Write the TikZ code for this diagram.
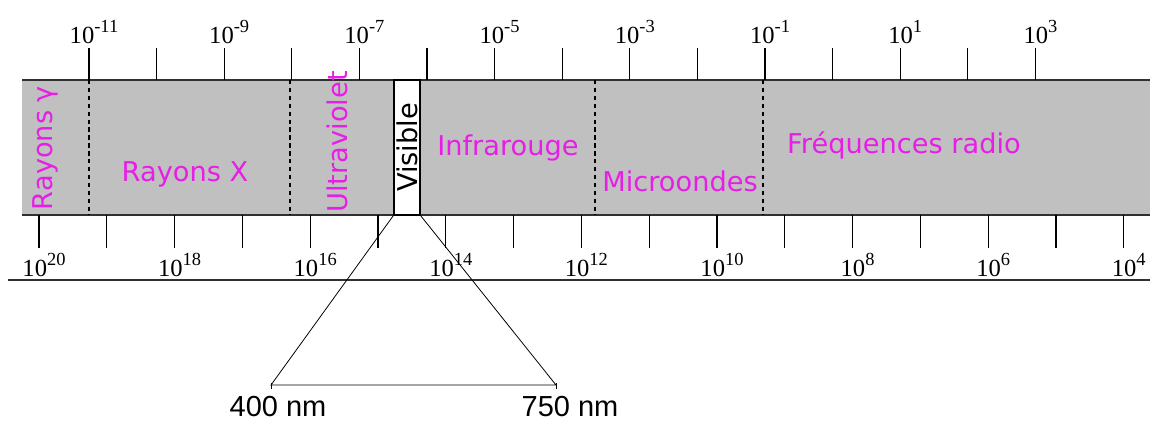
\documentclass[tikz,border=0pt]{standalone}
\usepackage{fontspec}
\setmainfont{Liberation Serif}
\newfontfamily\bandfont{DejaVu Sans}
\newfontfamily\nmfont{Liberation Sans}
\usepackage{xcolor}
\usepackage{tikz}
\usetikzlibrary{positioning}
\definecolor{bandgray}{HTML}{C0C0C0}
\definecolor{bandpink}{HTML}{E61EE6}
\definecolor{axisgray}{HTML}{303030}
\newcommand{\tenpow}[1]{10\raisebox{0.42em}{\fontsize{10.5}{12}\selectfont #1}}

\begin{document}
\begin{tikzpicture}[x=0.02cm, y=-0.02cm,
    axis/.style={draw=axisgray, line width=1pt},
    tick/.style={draw=black, line width=0.75pt},
    border/.style={draw=black, line width=0.8pt, dash pattern=on 2.5pt off 2pt},
    bandlbl/.style={text=bandpink, font=\bandfont\fontsize{15.5}{18}\selectfont, inner sep=0pt},
    powlbl/.style={font=\fontsize{14}{16}\selectfont, inner sep=0pt, anchor=base},
    nmlbl/.style={font=\nmfont\fontsize{16.5}{19}\selectfont, inner sep=0pt},
    zoomline/.style={draw=black, line width=0.45pt},
    visbox/.style={draw=black, fill=white, line width=0.8pt, minimum width=0.52cm,
      minimum height=2.7cm, inner sep=0pt, font=\bandfont\fontsize{15.5}{18}\selectfont}]

  \useasboundingbox (0,0) rectangle (1150,424);

  % band and axes
  \fill[bandgray] (22,80) rectangle (1150,215);
  \draw[axis] (22,80) -- (1150,80);
  \draw[axis] (22,215) -- (1150,215);
  \draw[axis] (8,280) -- (1150,280);

  % wavelength scale (top)
  \foreach \i in {0,...,14}
    \draw[tick] ({89+67.6*\i},48) -- ({89+67.6*\i},80);
  \foreach \i [evaluate=\i as \e using int(\i-11)] in {0,2,...,14}
    \node[powlbl] (wl\i) at ({94+67.6*\i},43) {\tenpow{\e}};

  % frequency scale (bottom)
  \foreach \i in {0,...,16}
    \draw[tick] ({39+67.8*\i},215) -- ({39+67.8*\i},248);
  \foreach \i [evaluate=\i as \e using int(20-\i)] in {0,2,...,16}
    \node[powlbl] (fq\i) at ({44+67.8*\i},276) {\tenpow{\e}};

  % domain limits
  \foreach \x in {89,290,595,763}
    \draw[border] (\x,80) -- (\x,215);

  % domains
  \node[bandlbl, rotate=90] (gamma) at (45,148) {Rayons γ};
  \node[bandlbl] (xray) at (185,174) {Rayons X};
  \node[bandlbl, rotate=90] (uv) at (337,142) {Ultraviolet};
  \node[visbox] (visible) at (407,147.5) {\rotatebox{90}{Visible}};
  \node[bandlbl] (ir) at (508,148) {Infrarouge};
  \node[bandlbl] (micro) at (680,181) {Microondes};
  \node[bandlbl] (radio) at (904,145) {Fréquences radio};

  % zoom on the visible
  \coordinate (nmleft) at (271,385);
  \coordinate (nmright) at (556,385);
  \draw[zoomline] (visible.south west) -- (nmleft) -- (nmright) -- (visible.south east);
  \draw[zoomline] ([yshift=1pt]nmleft) -- ([yshift=-2.5pt]nmleft);
  \draw[zoomline] ([yshift=1pt]nmright) -- ([yshift=-2.5pt]nmright);
  \node[nmlbl] (lbl400) at (278,407) {400 nm};
  \node[nmlbl] (lbl750) at (570,407) {750 nm};
\end{tikzpicture}
\end{document}
